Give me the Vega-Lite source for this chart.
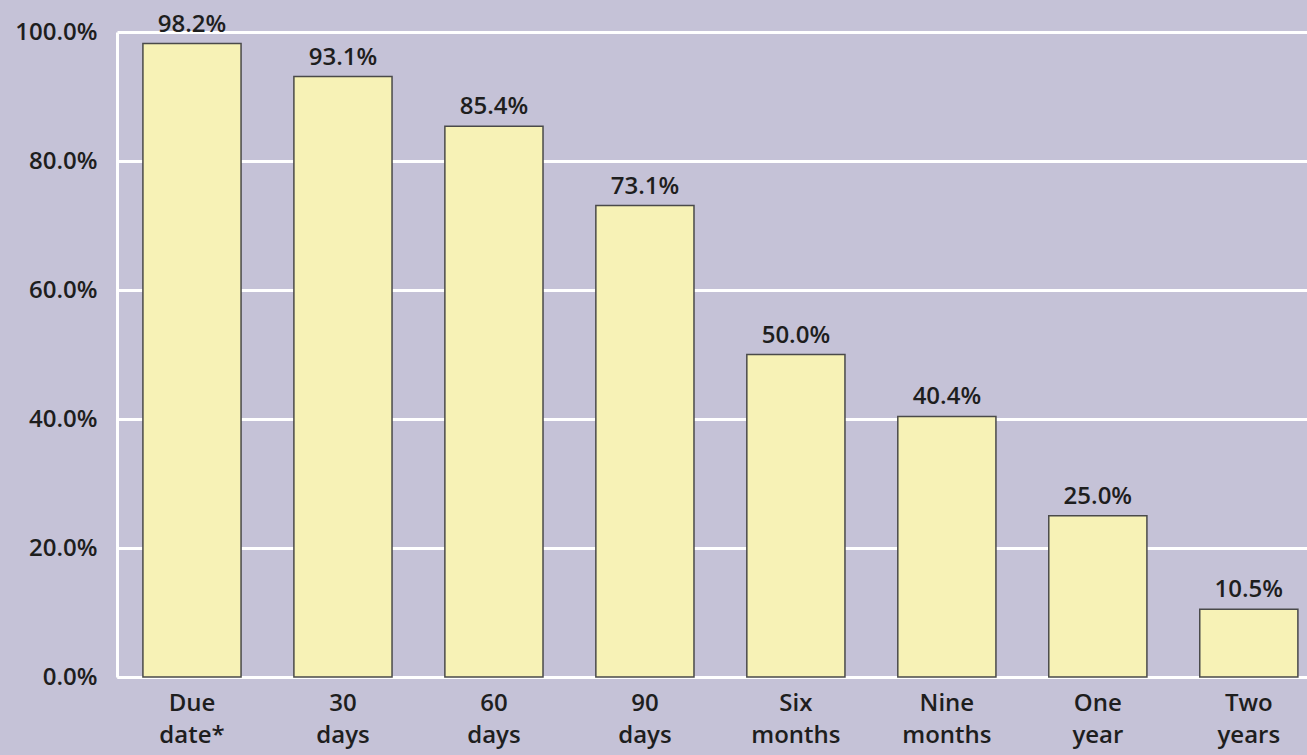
{
  "$schema": "https://vega.github.io/schema/vega-lite/v6.json",
  "autosize": {"type": "none"},
  "width": 1190,
  "height": 645,
  "padding": {"left": 117, "top": 32, "right": 0, "bottom": 78},
  "background": "#c5c2d7",
  "config": {
    "view": {"stroke": null},
    "font": "Open Sans",
    "axis": {"labelFont": "Open Sans", "labelColor": "#1e1e1e", "labelFontSize": 24, "labelFontWeight": 600}
  },
  "data": {
    "values": [
      {"period": "Due date*", "share": 0.982},
      {"period": "30 days", "share": 0.931},
      {"period": "60 days", "share": 0.854},
      {"period": "90 days", "share": 0.731},
      {"period": "Six months", "share": 0.500},
      {"period": "Nine months", "share": 0.404},
      {"period": "One year", "share": 0.250},
      {"period": "Two years", "share": 0.105}
    ]
  },
  "encoding": {
    "x": {
      "field": "period",
      "type": "nominal",
      "sort": null,
      "scale": {"paddingInner": 0.35, "paddingOuter": 0.116, "align": 0.74},
      "axis": {
        "title": null,
        "labelAngle": 0,
        "ticks": false,
        "domain": true,
        "domainColor": "#ffffff",
        "domainWidth": 3,
        "labelPadding": 14,
        "labelExpr": "split(datum.value, ' ')",
        "labelLineHeight": 32,
        "labelBaseline": "top"
      }
    },
    "y": {
      "field": "share",
      "type": "quantitative",
      "scale": {"domain": [0, 1], "nice": false},
      "axis": {
        "title": null,
        "format": ".1%",
        "values": [0, 0.2, 0.4, 0.6, 0.8, 1.0],
        "ticks": false,
        "domain": true,
        "domainColor": "#ffffff",
        "domainWidth": 3,
        "grid": true,
        "gridColor": "#ffffff",
        "gridWidth": 3,
        "gridOpacity": 1,
        "labelPadding": 20
      }
    }
  },
  "layer": [
    {
      "mark": {"type": "bar", "fill": "#f7f2b6", "stroke": "#4a4a4a", "strokeWidth": 1.5}
    },
    {
      "mark": {"type": "text", "baseline": "alphabetic", "dy": -12, "fontSize": 24, "fontWeight": 600, "color": "#1e1e1e", "font": "Open Sans"},
      "encoding": {
        "text": {"field": "share", "type": "quantitative", "format": ".1%"}
      }
    }
  ]
}
